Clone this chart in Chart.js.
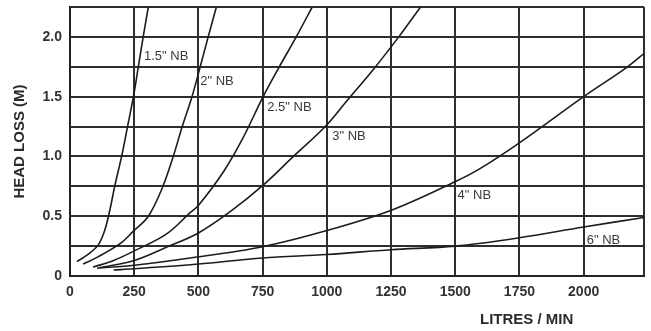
<!DOCTYPE html>
<html>
<head>
<meta charset="utf-8">
<script src="https://cdn.jsdelivr.net/npm/chart.js@4/dist/chart.umd.min.js"></script>
<style>
  html, body { margin: 0; padding: 0; background: #fff; }
  #wrap { width: 651px; height: 331px; }
</style>
</head>
<body>
<div id="wrap"><canvas id="chart"></canvas></div>
<script>
// pipe sizes and head loss curves (flow in L/min, head loss in m)
const sizes = ['1.5" NB', '2" NB', '2.5" NB', '3" NB', '4" NB', '6" NB'];

const flow15 = [27, 70, 110, 135, 155, 175, 201, 224, 247, 266, 285, 305];
const head15 = [0.12, 0.18, 0.26, 0.38, 0.55, 0.76, 1.0, 1.25, 1.5, 1.75, 2.0, 2.25];

const flow20 = [51, 109, 195, 247, 305, 360, 402, 437, 475, 507, 538, 570];
const head20 = [0.10, 0.16, 0.27, 0.375, 0.50, 0.74, 1.0, 1.25, 1.5, 1.75, 2.0, 2.25];

const flow25 = [90, 170, 250, 375, 468, 500, 597, 670, 752, 815, 881, 943];
const head25 = [0.075, 0.13, 0.21, 0.35, 0.53, 0.59, 0.87, 1.14, 1.5, 1.75, 2.0, 2.25];

const flow30 = [115, 250, 375, 500, 625, 752, 870, 994, 1080, 1182, 1280, 1365];
const head30 = [0.07, 0.13, 0.24, 0.36, 0.54, 0.76, 1.0, 1.25, 1.47, 1.73, 2.0, 2.25];

const flow40 = [105, 250, 468, 750, 1000, 1251, 1501, 1598, 1754, 2000, 2171, 2240];
const head40 = [0.065, 0.09, 0.15, 0.245, 0.38, 0.55, 0.79, 0.90, 1.12, 1.50, 1.75, 1.87];

const flow60 = [170, 250, 500, 750, 1000, 1250, 1500, 1750, 2000, 2238];
const head60 = [0.05, 0.06, 0.10, 0.15, 0.18, 0.22, 0.25, 0.32, 0.41, 0.49];

const xTicks = [0, 250, 500, 750, 1000, 1250, 1500, 1750, 2000];
const yTicks = [0, 0.5, 1.0, 1.5, 2.0];

const xTitle = 'LITRES / MIN';
const yTitle = 'HEAD LOSS (M)';

const flows = [flow15, flow20, flow25, flow30, flow40, flow60];
const heads = [head15, head20, head25, head30, head40, head60];

const FONT = '"Liberation Sans", Arial, Helvetica, sans-serif';

function toPoints(xs, ys) {
    return xs.map((x, i) => ({x: x, y: ys[i]}));
}

// where each curve's name sits (flow, head), left edge of the text
const labelAt = [[288, 1.84], [507, 1.63], [768, 1.41], [1021, 1.17], [1509, 0.675], [2012, 0.30]];

const textPlugin = {
    id: 'texts',
    beforeDraw(chart) {
        const ctx = chart.ctx;
        ctx.save();
        ctx.fillStyle = '#fff';
        ctx.fillRect(0, 0, chart.width, chart.height);
        ctx.restore();
    },
    afterDraw(chart) {
        const ctx = chart.ctx;
        const xs = chart.scales.x;
        const ys = chart.scales.y;
        ctx.save();

        ctx.fillStyle = '#3a3a3a';
        ctx.font = '13px ' + FONT;
        ctx.textAlign = 'left';
        ctx.textBaseline = 'middle';
        sizes.forEach((s, i) => {
            ctx.fillText(s, xs.getPixelForValue(labelAt[i][0]), ys.getPixelForValue(labelAt[i][1]));
        });

        ctx.fillStyle = '#2b2b2b';
        ctx.font = 'bold 15px ' + FONT;
        ctx.textAlign = 'center';
        ctx.fillText(xTitle, xs.getPixelForValue(1778), 320);

        ctx.translate(20, (chart.chartArea.top + chart.chartArea.bottom) / 2);
        ctx.rotate(-Math.PI / 2);
        ctx.fillText(yTitle, 0, 0);
        ctx.restore();
    }
};

new Chart(document.getElementById('chart'), {
    type: 'line',
    data: {
        datasets: sizes.map((s, i) => ({
            label: s,
            data: toPoints(flows[i], heads[i]),
            borderColor: '#1c1c1c',
            borderWidth: 1.6,
            pointRadius: 0,
            fill: false,
            tension: 0.35
        }))
    },
    options: {
        responsive: true,
        maintainAspectRatio: false,
        animation: false,
        layout: {padding: {top: 7, right: 7, left: 0, bottom: 0}},
        plugins: {
            legend: {display: false},
            tooltip: {enabled: false}
        },
        scales: {
            x: {
                type: 'linear',
                min: 0,
                max: 2235,
                afterFit: (scale) => {
                    scale.height = 55;
                    scale.paddingLeft = 0;
                    scale.paddingRight = 0;
                },
                afterBuildTicks: (scale) => {
                    scale.ticks = xTicks.map(v => ({value: v})).concat([{value: 2235}]);
                },
                grid: {color: '#2e2e2e', lineWidth: 2, drawTicks: false},
                border: {color: '#222', width: 2},
                ticks: {
                    padding: 8,
                    color: '#333',
                    font: {family: FONT, size: 14, weight: 'bold'},
                    callback: (v) => xTicks.includes(v) ? String(v) : ''
                }
            },
            y: {
                type: 'linear',
                min: 0,
                max: 2.25,
                afterFit: (scale) => {
                    scale.width = 70;
                    scale.paddingTop = 0;
                    scale.paddingBottom = 0;
                },
                grid: {color: '#2e2e2e', lineWidth: 2, drawTicks: false},
                border: {color: '#222', width: 2},
                ticks: {
                    stepSize: 0.25,
                    padding: 8,
                    color: '#333',
                    font: {family: FONT, size: 14, weight: 'bold'},
                    callback: (v) => yTicks.includes(v) ? (v === 0 ? '0' : v.toFixed(1)) : ''
                }
            }
        }
    },
    plugins: [textPlugin]
});
</script>
</body>
</html>
